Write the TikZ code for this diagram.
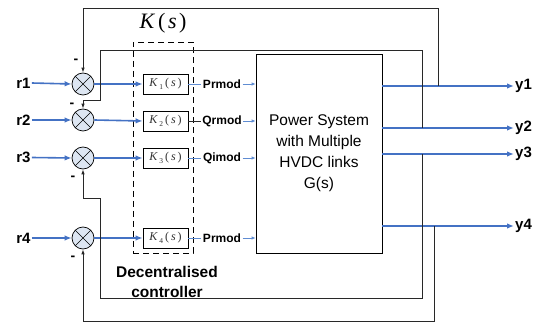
\documentclass[tikz,border=0pt]{standalone}
\usepackage{fontspec}
\setmainfont{Liberation Sans}
\newfontfamily\serifk{Liberation Serif}
\usetikzlibrary{arrows.meta}
\definecolor{lblue}{RGB}{68,114,196}
\definecolor{tblue}{RGB}{95,140,210}
\definecolor{sumfill}{RGB}{221,230,242}
\definecolor{fbcol}{RGB}{40,40,40}
\newcommand{\kfun}[1]{{\serifk\itshape K\,\raisebox{-0.4ex}{\upshape\fontsize{7.5}{8}\selectfont #1}\,\upshape(\,\itshape s\upshape\,)}}
\begin{document}
\begin{tikzpicture}[x=1pt,y=-1pt,
  sumnode/.style={circle,draw,fill=sumfill,minimum size=22pt,inner sep=0pt,line width=0.7pt,
    path picture={\draw[line width=0.6pt] (path picture bounding box.north west) -- (path picture bounding box.south east)
      (path picture bounding box.north east) -- (path picture bounding box.south west);}},
  iolab/.style={font=\bfseries\fontsize{15}{17}\selectfont,inner sep=1pt},
  siglab/.style={font=\bfseries\fontsize{12}{14}\selectfont,inner sep=1.5pt},
  kbox/.style={draw,line width=0.7pt,minimum width=45pt,minimum height=20pt,inner sep=0pt,
    font=\fontsize{12}{14}\selectfont,text=black!80},
  bluearrow/.style={draw=lblue,line width=1.6pt,-{Latex[length=7pt,width=5.5pt]}},
  thinblue/.style={draw=tblue,line width=0.9pt},
  thinarrow/.style={thinblue,-{Latex[length=4pt,width=3.5pt]}},
  fb/.style={draw=fbcol,line width=0.8pt},
  fbarrow/.style={fb,-{Latex[length=5pt,width=3.5pt]}},
  minus/.style={font=\bfseries\fontsize{14}{16}\selectfont,inner sep=0pt}
]
\useasboundingbox (0,0) rectangle (541,323);

% dashed controller box
\node[draw,dashed,dash pattern=on 6pt off 4pt,line width=0.8pt,minimum width=60pt,minimum height=211pt,inner sep=0pt] (kk) at (163,147.5) {};
\node[inner sep=0pt,font=\serifk\fontsize{22}{24}\selectfont] (klab) at (163,23) {\itshape K\hspace{4pt}\upshape(\hspace{2.5pt}\itshape s\upshape\hspace{2.5pt})};
\node[align=center,font=\bfseries\fontsize{15.5}{20}\selectfont,inner sep=0pt] (dc) at (167,282) {Decentralised\\controller};

% plant
\node[draw,line width=0.8pt,minimum width=126pt,minimum height=199pt,inner sep=0pt,align=center,
  font=\fontsize{15.5}{21}\selectfont] (g) at (319,153.5) {Power System\\with Multiple\\HVDC links\\G(s)};

% summing junctions
\node[sumnode] (s1) at (83,84) {};
\node[sumnode] (s2) at (83,120) {};
\node[sumnode] (s3) at (83,158) {};
\node[sumnode] (s4) at (83,238) {};

% controllers
\node[kbox] (k1) at (165.5,84) {\kfun{1}};
\node[kbox] (k2) at (165.5,121) {\kfun{2}};
\node[kbox] (k3) at (165.5,158) {\kfun{3}};
\node[kbox] (k4) at (165.5,238) {\kfun{4}};

% inputs
\node[iolab] (r1) at (23.5,83) {r1};
\node[iolab] (r2) at (23.5,120) {r2};
\node[iolab] (r3) at (23.5,157.5) {r3};
\node[iolab] (r4) at (23.5,238) {r4};

\draw[bluearrow] (r1.east) -- (s1.west);
\draw[bluearrow] (r2.east) -- (s2.west);
\draw[bluearrow] (r3.east) -- (s3.west);
\draw[bluearrow] (r4.east) -- (s4.west);

\draw[bluearrow] (s1.east) -- (k1.west);
\draw[bluearrow] (s2.east) -- (k2.west);
\draw[bluearrow] (s3.east) -- (k3.west);
\draw[bluearrow] (s4.east) -- (k4.west);

% control signals
\node[siglab] (p1) at (222,84) {Prmod};
\node[siglab] (p2) at (222,121) {Qrmod};
\node[siglab] (p3) at (222,158) {Qimod};
\node[siglab] (p4) at (222,238) {Prmod};
\draw[thinblue] (k1.east) -- (p1.west);
\draw[thinarrow] (p1.east) -- (p1 -| g.west);
\draw[fb] (k2.east) -- (p2.west);
\draw[thinarrow] (p2.east) -- (p2 -| g.west);
\draw[thinblue] (k3.east) -- (p3.west);
\draw[thinarrow] (p3.east) -- (p3 -| g.west);
\draw[thinblue] (k4.east) -- (p4.west);
\draw[thinarrow] (p4.east) -- (p4 -| g.west);

% outputs
\node[iolab,anchor=west] (y1) at (514,86) {y1};
\node[iolab,anchor=west] (y2) at (514,128) {y2};
\node[iolab,anchor=west] (y3) at (514,154) {y3};
\node[iolab,anchor=west] (y4) at (514,226) {y4};
\draw[bluearrow] (y1 -| g.east) -- (y1.west);
\draw[bluearrow] (y2 -| g.east) -- (y2.west);
\draw[bluearrow] (y3 -| g.east) -- (y3.west);
\draw[bluearrow] (y4 -| g.east) -- (y4.west);

% feedback loops
\coordinate (f1) at (438,86);
\coordinate (f2) at (422,128);
\coordinate (f3) at (422,154);
\coordinate (f4) at (434,226);
\draw[fbarrow] (f1) -- (438,8) -| (s1.north);
\draw[fbarrow] (f2) -- (422,50) -- (100,50) -- (100,100) -| (s2.north);
\draw[fbarrow] (f3) -- (422,298) -- (100,298) -- (100,198) -| (s3.south);
\draw[fbarrow] (f4) -- (434,321) -| (s4.south);

% minus signs
\node[minus] (m1) at (76,61) {-};
\node[minus] (m2) at (72,105) {-};
\node[minus] (m3) at (73,178) {-};
\node[minus] (m4) at (73,258) {-};
\end{tikzpicture}
\end{document}
